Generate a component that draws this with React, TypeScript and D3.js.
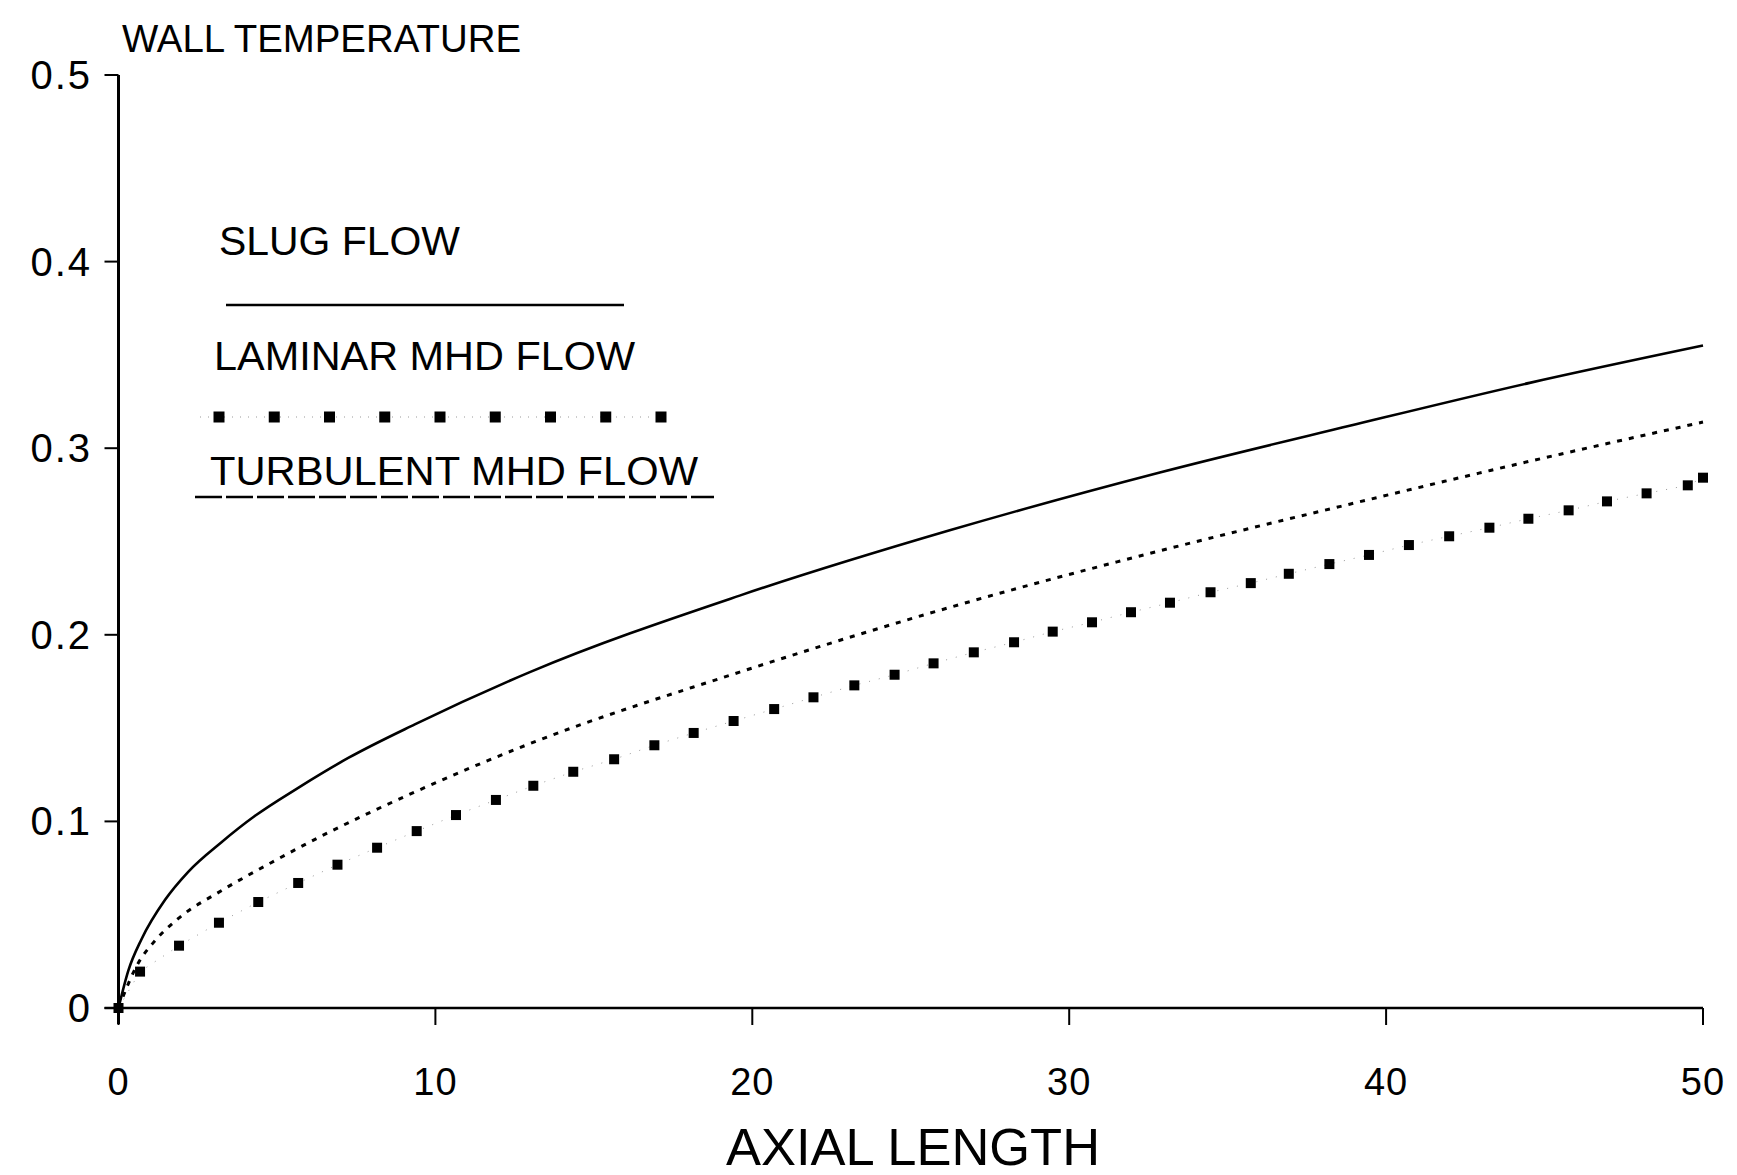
import * as d3 from "d3";

// slug flow (solid)
const slugX = [0, 0.31, 0.73, 1.47, 2.2, 3.26, 4.31, 5.67, 7.25, 9.35, 12.98, 19.6, 26.23, 32.86, 38.85, 44.53, 50];
const slugY = [0, 0.02, 0.037, 0.058, 0.073, 0.089, 0.103, 0.118, 0.134, 0.152, 0.18, 0.221, 0.256, 0.287, 0.312, 0.335, 0.355];

// turbulent MHD flow (short dashes)
const turbX = [0, 0.62, 1.15, 1.89, 3.26, 4.83, 6.62, 8.09, 9.25, 12.88, 19.6, 26.5, 32.86, 38.85, 44.53, 50];
const turbY = [0, 0.024, 0.036, 0.048, 0.063, 0.078, 0.094, 0.106, 0.115, 0.141, 0.18, 0.216, 0.245, 0.27, 0.293, 0.314];

// laminar MHD flow (square markers)
const lamX = [0, 0.68, 1.91, 3.17, 4.41, 5.67, 6.91, 8.16, 9.41, 10.65, 11.91, 13.09, 14.35, 15.64, 16.91,
  18.15, 19.41, 20.69, 21.93, 23.22, 24.49, 25.72, 26.99, 28.26, 29.48, 30.72, 31.95, 33.18, 34.46, 35.73,
  36.93, 38.21, 39.46, 40.72, 41.99, 43.26, 44.49, 45.76, 46.97, 48.22, 49.52, 50];
const lamY = [0, 0.0195, 0.0334, 0.0457, 0.0568, 0.067, 0.0768, 0.0859, 0.0948, 0.1034, 0.1115, 0.1191, 0.1266,
  0.1333, 0.1408, 0.1474, 0.1538, 0.1602, 0.1665, 0.1729, 0.1786, 0.1847, 0.1906, 0.196, 0.2017, 0.2067,
  0.2121, 0.2172, 0.2228, 0.2277, 0.2327, 0.2379, 0.2428, 0.2481, 0.2528, 0.2574, 0.2622, 0.2667, 0.2715,
  0.2758, 0.2801, 0.2842];

const xTicks = [0, 10, 20, 30, 40, 50];
const yTicks = [0, 0.1, 0.2, 0.3, 0.4, 0.5];
const yTickLabels = ["0", "0.1", "0.2", "0.3", "0.4", "0.5"];

const FONT = "'Liberation Sans', Arial, sans-serif";

export default function App() {
  const width = 1737;
  const height = 1175;
  const x = d3.scaleLinear().domain([0, 50]).range([118.5, 1703]);
  const y = d3.scaleLinear().domain([0, 0.5]).range([1008, 75]);

  const line = d3.line<[number, number]>()
    .x(d => x(d[0]))
    .y(d => y(d[1]))
    .curve(d3.curveMonotoneX);

  const slug = line(slugX.map((v, i) => [v, slugY[i]]));
  const turb = line(turbX.map((v, i) => [v, turbY[i]]));
  const lam = d3.line<[number, number]>().x(d => x(d[0])).y(d => y(d[1]))(lamX.map((v, i) => [v, lamY[i]]));

  const sq = 10;
  const legendSquares = d3.range(9).map(i => 219 + i * 55.25);

  return (
    <svg width={width} height={height} style={{ position: "absolute", left: 0, top: 0, background: "#fff" }}>
      <rect width={width} height={height} fill="#fff" />

      {/* axes */}
      <line x1={x(0)} x2={x(0)} y1={y(0.5)} y2={y(0) + 16} stroke="#000" strokeWidth={3} />
      <line x1={x(0) - 14} x2={x(50)} y1={y(0)} y2={y(0)} stroke="#000" strokeWidth={2.5} />
      {yTicks.map(t => (
        <line key={"yt" + t} x1={x(0) - 14} x2={x(0)} y1={y(t)} y2={y(t)} stroke="#000" strokeWidth={2} />
      ))}
      {xTicks.map(t => (
        <line key={"xt" + t} x1={x(t)} x2={x(t)} y1={y(0)} y2={y(0) + 17} stroke="#000" strokeWidth={2} />
      ))}
      {yTicks.map((t, i) => (
        <text key={"yl" + t} x={92} y={y(t) + 14} textAnchor="end" fontFamily={FONT} fontSize={40}
          letterSpacing={2}>{yTickLabels[i]}</text>
      ))}
      {xTicks.map(t => (
        <text key={"xl" + t} x={x(t)} y={1095} textAnchor="middle" fontFamily={FONT} fontSize={38}
          letterSpacing={1}>{t}</text>
      ))}
      <text x={122} y={52} fontFamily={FONT} fontSize={38} textLength={399} lengthAdjust="spacingAndGlyphs">WALL TEMPERATURE</text>
      <text x={726} y={1165} fontFamily={FONT} fontSize={52} textLength={374} lengthAdjust="spacingAndGlyphs">AXIAL LENGTH</text>

      {/* curves */}
      <path d={slug ?? ""} fill="none" stroke="#000" strokeWidth={2.6} />
      <path d={turb ?? ""} fill="none" stroke="#000" strokeWidth={3} strokeDasharray="5 7" />
      <path d={lam ?? ""} fill="none" stroke="#999" strokeWidth={1} strokeDasharray="1 9" />
      {lamX.map((v, i) => (
        <rect key={"sq" + i} x={x(v) - sq / 2} y={y(lamY[i]) - sq / 2} width={sq} height={sq} fill="#000" />
      ))}

      {/* legend */}
      <text x={219} y={255} fontFamily={FONT} fontSize={41} textLength={241} lengthAdjust="spacingAndGlyphs">SLUG FLOW</text>
      <line x1={226} x2={624} y1={305} y2={305} stroke="#000" strokeWidth={2.6} />
      <text x={214} y={370} fontFamily={FONT} fontSize={41} textLength={421} lengthAdjust="spacingAndGlyphs">LAMINAR MHD FLOW</text>
      <line x1={200} x2={665} y1={417} y2={417} stroke="#999" strokeWidth={1} strokeDasharray="1 7" />
      {legendSquares.map((cx, i) => (
        <rect key={"lsq" + i} x={cx - 5.5} y={417 - 5.5} width={11} height={11} fill="#000" />
      ))}
      <text x={210} y={485} fontFamily={FONT} fontSize={41} textLength={488} lengthAdjust="spacingAndGlyphs">TURBULENT MHD FLOW</text>
      <line x1={195} x2={714} y1={497} y2={497} stroke="#000" strokeWidth={2.5} strokeDasharray="27 4" />
    </svg>
  );
}
